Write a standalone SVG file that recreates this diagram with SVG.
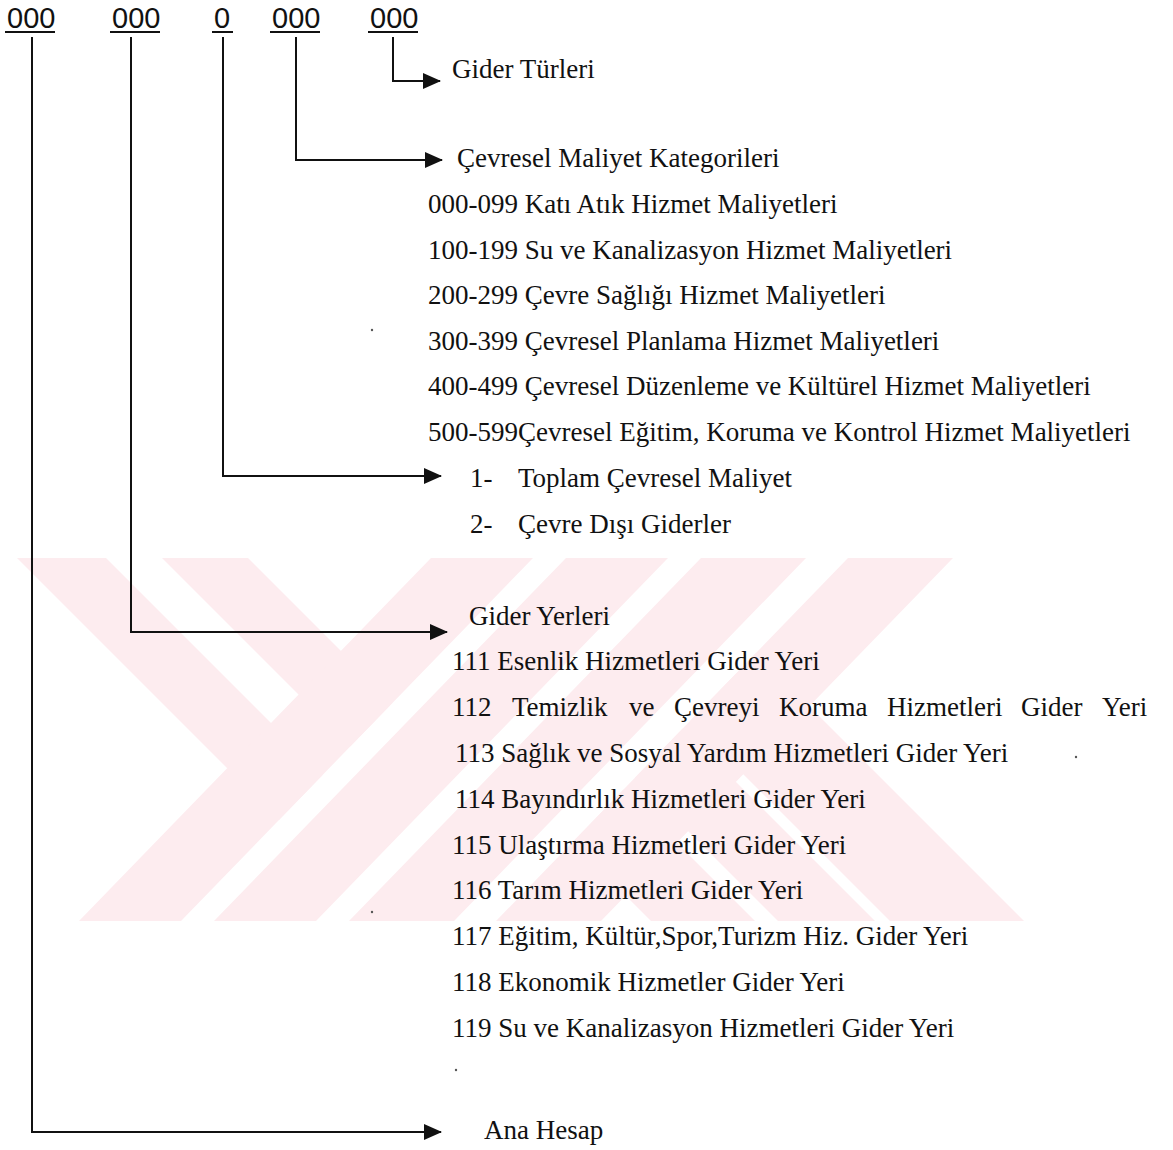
<svg xmlns="http://www.w3.org/2000/svg" width="1173" height="1150" viewBox="0 0 1173 1150">
<style>
.t{font-family:"Liberation Serif","Times New Roman",serif;font-size:27px;fill:#111}
.code{font-family:"Liberation Sans",Arial,sans-serif;font-size:29px;fill:#111}
.ln{stroke:#111;stroke-width:2;fill:none}
.wm{fill:#fdecef}
.dot{fill:#555}
</style>
<defs>
<marker id="ah" markerUnits="userSpaceOnUse" markerWidth="18" markerHeight="16" refX="17" refY="8" orient="auto">
<path d="M0,0 L18,8 L0,16 Z" fill="#111"/>
</marker>
<clipPath id="clipLeft"><polygon points="0,558 533,558 181,921 0,921"/></clipPath>
<clipPath id="clipRight"><polygon points="848,558 1173,558 1173,921 496,921"/></clipPath>
</defs>
<rect width="1173" height="1150" fill="#fff"/>
<g id="watermark">
<g clip-path="url(#clipLeft)">
<polygon class="wm" points="17,558 106,558 469,921 380,921"/>
<polygon class="wm" points="162,558 248,558 611,921 525,921"/>
</g>
<polygon class="wm" points="431,558 533,558 181,921 79,921"/>
<polygon class="wm" points="566,558 668,558 316,921 214,921"/>
<polygon class="wm" points="701,558 806,558 454,921 349,921"/>
<polygon class="wm" points="848,558 953,558 601,921 496,921"/>
<g clip-path="url(#clipRight)">
<polygon class="wm" points="288,558 392,558 755,921 651,921"/>
<polygon class="wm" points="415,558 512,558 875,921 778,921"/>
<polygon class="wm" points="527,558 661,558 1024,921 890,921"/>
</g>
</g>
<g id="codes">
<g id="code-anahesap"><text class="code" x="7" y="28">000</text><line class="ln" x1="5" y1="32" x2="55" y2="32"/></g>
<g id="code-yerleri"><text class="code" x="112" y="28">000</text><line class="ln" x1="110" y1="32" x2="160" y2="32"/></g>
<g id="code-toplam"><text class="code" x="214" y="28">0</text><line class="ln" x1="212" y1="32" x2="233" y2="32"/></g>
<g id="code-kategori"><text class="code" x="272" y="28">000</text><line class="ln" x1="270" y1="32" x2="320" y2="32"/></g>
<g id="code-turler"><text class="code" x="370" y="28">000</text><line class="ln" x1="368" y1="32" x2="418" y2="32"/></g>
</g>
<g id="connectors">
<path class="ln" d="M393,37 V81 H440" marker-end="url(#ah)"/>
<path class="ln" d="M296,37 V160 H442" marker-end="url(#ah)"/>
<path class="ln" d="M223,37 V476 H441" marker-end="url(#ah)"/>
<path class="ln" d="M131,37 V632 H447" marker-end="url(#ah)"/>
<path class="ln" d="M32,37 V1132 H441" marker-end="url(#ah)"/>
</g>
<g id="node-gider-turleri"><text class="t" x="452" y="78">Gider Türleri</text></g>
<g id="node-kategoriler">
<text class="t" x="457" y="167">Çevresel Maliyet Kategorileri</text>
<text class="t" x="428" y="213">000-099 Katı Atık Hizmet Maliyetleri</text>
<text class="t" x="428" y="259">100-199 Su ve Kanalizasyon Hizmet Maliyetleri</text>
<text class="t" x="428" y="304">200-299 Çevre Sağlığı Hizmet Maliyetleri</text>
<text class="t" x="428" y="350">300-399 Çevresel Planlama Hizmet Maliyetleri</text>
<text class="t" x="428" y="395">400-499 Çevresel Düzenleme ve Kültürel Hizmet Maliyetleri</text>
<text class="t" x="428" y="441">500-599Çevresel Eğitim, Koruma ve Kontrol Hizmet Maliyetleri</text>
</g>
<g id="node-toplam">
<text class="t" x="470" y="487">1-</text><text class="t" x="518" y="487">Toplam Çevresel Maliyet</text>
<text class="t" x="470" y="533">2-</text><text class="t" x="518" y="533">Çevre Dışı Giderler</text>
</g>
<g id="node-gider-yerleri">
<text class="t" x="469" y="625">Gider Yerleri</text>
<text class="t" x="452" y="670">111 Esenlik Hizmetleri Gider Yeri</text>
<text class="t" y="716"><tspan x="452">112</tspan><tspan x="512">Temizlik</tspan><tspan x="629">ve</tspan><tspan x="674">Çevreyi</tspan><tspan x="779">Koruma</tspan><tspan x="887">Hizmetleri</tspan><tspan x="1021">Gider</tspan><tspan x="1102">Yeri</tspan></text>
<text class="t" x="455" y="762">113 Sağlık ve Sosyal Yardım Hizmetleri Gider Yeri</text>
<text class="t" x="455" y="808">114 Bayındırlık Hizmetleri Gider Yeri</text>
<text class="t" x="452" y="854">115 Ulaştırma Hizmetleri Gider Yeri</text>
<text class="t" x="452" y="899">116 Tarım Hizmetleri Gider Yeri</text>
<text class="t" x="452" y="945">117 Eğitim, Kültür,Spor,Turizm Hiz. Gider Yeri</text>
<text class="t" x="452" y="991">118 Ekonomik Hizmetler Gider Yeri</text>
<text class="t" x="452" y="1037">119 Su ve Kanalizasyon Hizmetleri Gider Yeri</text>
</g>
<g id="node-ana-hesap"><text class="t" x="484" y="1139">Ana Hesap</text></g>
<g id="specks">
<circle class="dot" cx="372" cy="330" r="1.2"/>
<circle class="dot" cx="1076" cy="757" r="1.2"/>
<circle class="dot" cx="372" cy="912" r="1.2"/>
<circle class="dot" cx="456" cy="1070" r="1.2"/>
</g>
</svg>
